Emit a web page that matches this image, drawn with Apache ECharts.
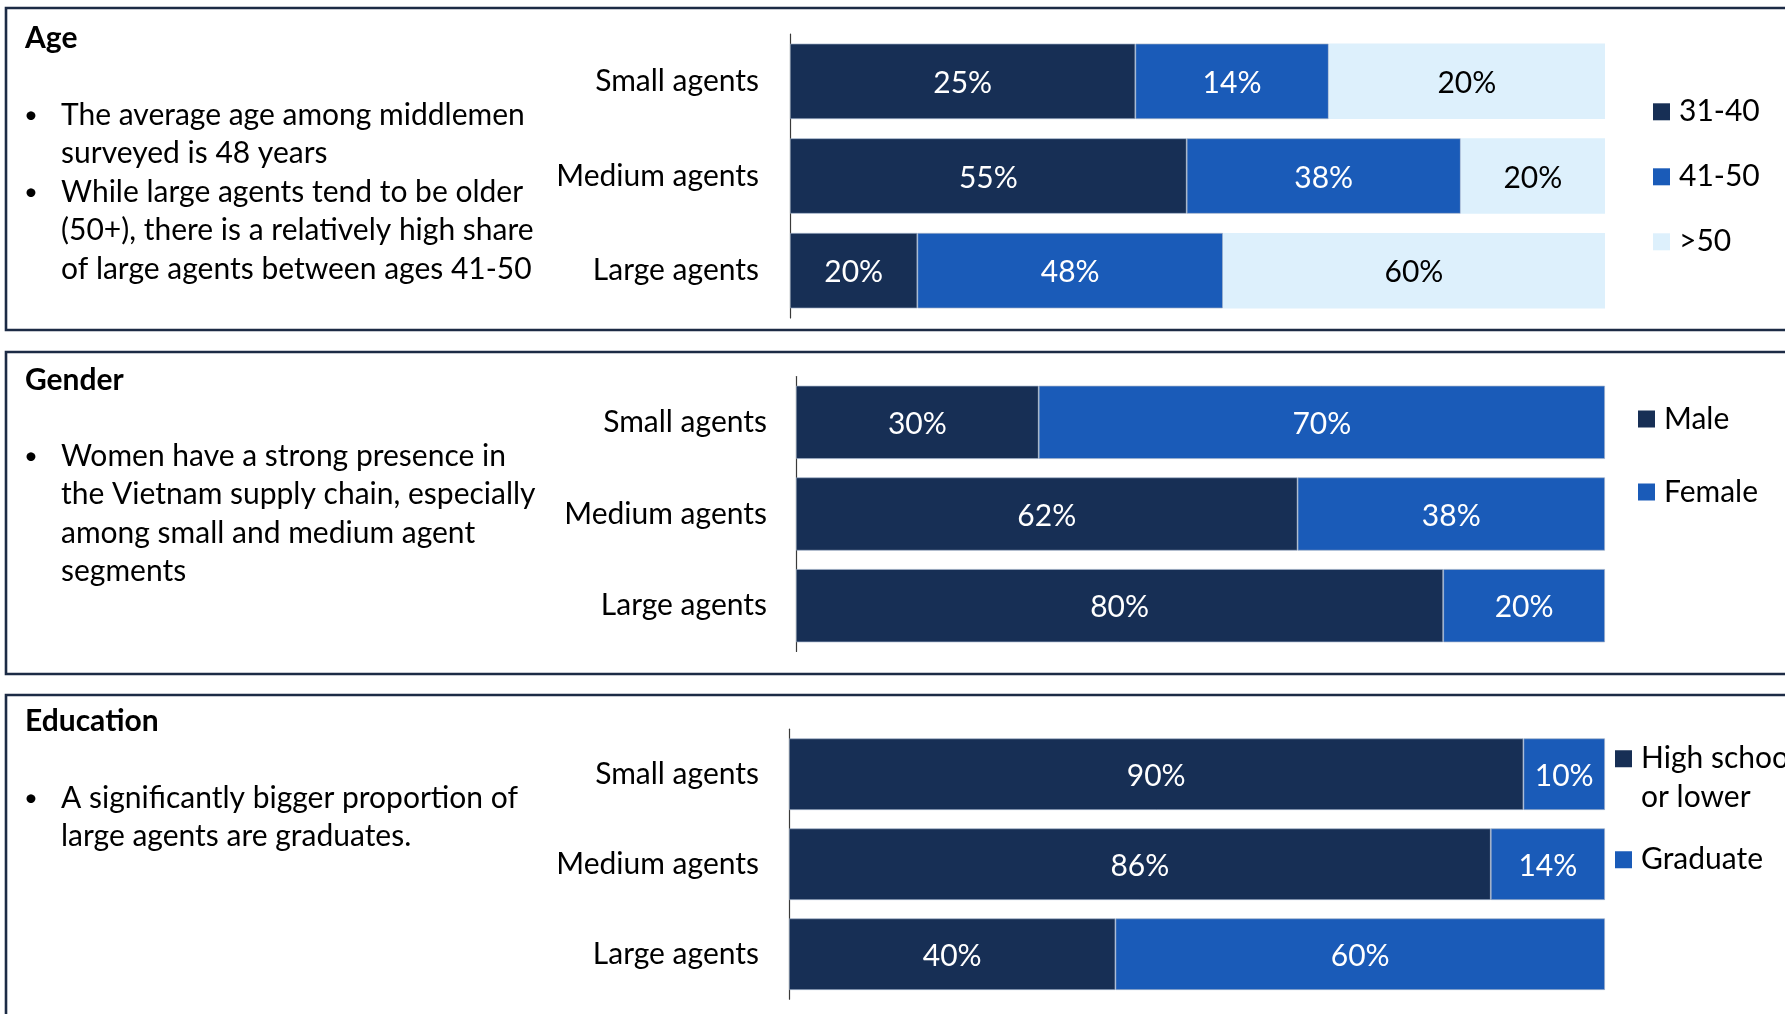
<!DOCTYPE html>
<html><head><meta charset="utf-8">
<script src="https://cdn.jsdelivr.net/npm/echarts@6/dist/echarts.min.js"></script>
<style>html,body{margin:0;padding:0;background:#fff;overflow:hidden}#c{width:1785px;height:1014px}</style>
</head><body><div id="c"></div>
<script>
// ---- data ----
const categories = ['Small agents', 'Medium agents', 'Large agents'];
const ageNames = ['31-40', '41-50', '>50'];
const age31to40 = [25, 55, 20];
const age41to50 = [14, 38, 48];
const ageOver50 = [20, 20, 60];
const genderNames = ['Male', 'Female'];
const genderMale = [30, 62, 80];
const genderFemale = [70, 38, 20];
const eduNames = ['High school or lower', 'Graduate'];
const eduHighSchool = [90, 86, 40];
const eduGraduate = [10, 14, 60];

// ---- style ----
const FONT = 'Lato';
const FS = 30;
const DARK = '#172f55', MID = '#1a5bb8', LIGHT = '#ddf0fc';
const BOX = '#1c2b45';

function normalized(groups) {
  // each bar is drawn as 100% of its row; share = value / row total
  return groups.map(arr => arr.map((v, i) => {
    const tot = groups.reduce((s, g) => s + g[i], 0);
    return { value: v / tot * 100, raw: v };
  }));
}

const panels = [
  { groups: [age31to40, age41to50, ageOver50], names: ageNames, colors: [DARK, MID, LIGHT], labelColors: ['#fff', '#fff', '#000'],
    grid: { left: 790, top: 34, height: 284 }, barWidth: 75.5, labelMargin: 31 },
  { groups: [genderMale, genderFemale], names: genderNames, colors: [DARK, MID], labelColors: ['#fff', '#fff'],
    grid: { left: 796, top: 376.5, height: 275 }, barWidth: 73.3, labelMargin: 29 },
  { groups: [eduHighSchool, eduGraduate], names: eduNames, colors: [DARK, MID], labelColors: ['#fff', '#fff'],
    grid: { left: 789, top: 729.2, height: 270 }, barWidth: 71.7, labelMargin: 30 }
];

const grids = [], xAxes = [], yAxes = [], series = [];
panels.forEach((p, pi) => {
  grids.push({ left: p.grid.left, right: 180, top: p.grid.top, height: p.grid.height, outerBoundsMode: 'none' });
  xAxes.push({ type: 'value', gridIndex: pi, min: 0, max: 100, show: false });
  yAxes.push({
    type: 'category', gridIndex: pi, data: categories, inverse: true,
    axisLine: { show: true, lineStyle: { color: '#3a3a3a', width: 1.2 } },
    axisTick: { show: false }, splitLine: { show: false },
    axisLabel: { margin: p.labelMargin, fontSize: FS, fontFamily: FONT, color: '#000' }
  });
  const norm = normalized(p.groups);
  norm.forEach((d, si) => {
    const light = p.colors[si] === LIGHT;
    series.push({
      type: 'bar', name: p.names[si], xAxisIndex: pi, yAxisIndex: pi, stack: 'p' + pi,
      barWidth: p.barWidth, data: d,
      itemStyle: { color: p.colors[si], borderColor: light ? LIGHT : 'rgba(160,176,200,0.85)', borderWidth: light ? 0 : 0.8 },
      label: { show: true, position: 'inside', offset: [0, 2], fontSize: FS, fontFamily: FONT, color: p.labelColors[si],
               textBorderWidth: 0, formatter: prm => prm.data.raw + '%' },
      emphasis: { disabled: true }, animation: false
    });
  });
});

const legendText = { fontSize: FS, fontFamily: FONT, color: '#000', lineHeight: 30, padding: [0, 0, 0, 4] };
const legends = [
  { data: ageNames, left: 1653, top: 96.8, itemGap: 35 },
  { data: genderNames, left: 1638, top: 404, itemGap: 43 },
  { data: eduNames, left: 1615, top: 701, itemGap: 24,
    formatter: n => n === 'High school or lower' ? '\nHigh school\nor lower' : n,
    textStyle: Object.assign({}, legendText, { lineHeight: 38.5 }) }
].map(l => Object.assign({ orient: 'vertical', icon: 'rect', itemWidth: 17, itemHeight: 17,
  selectedMode: false, textStyle: legendText, padding: 0, itemStyle: { borderWidth: 0 } }, l));

// ---- text blocks ----
function txt(s, x, y, opt) {
  return Object.assign({ type: 'text', x: x, y: y, silent: true,
    style: Object.assign({ text: s, fontSize: FS, fontFamily: FONT, fill: '#000',
      align: 'left', textAlign: 'left', verticalAlign: 'middle', textVerticalAlign: 'middle' }, opt || {}) });
}
const blocks = [
  { title: 'Age', ty: 38, lines: [
    ['The average age among middlemen', 115, true], ['surveyed is 48 years', 153.5, false],
    ['While large agents tend to be older', 192, true], ['(50+), there is a relatively high share', 230.5, false],
    ['of large agents between ages 41-50', 269, false]] },
  { title: 'Gender', ty: 380.5, lines: [
    ['Women have a strong presence in', 456, true], ['the Vietnam supply chain, especially', 494.5, false],
    ['among small and medium agent', 533, false], ['segments', 571.5, false]] },
  { title: 'Education', ty: 721.5, lines: [
    ['A significantly bigger proportion of', 798, true], ['large agents are graduates.', 836.5, false]] }
];
const graphics = [];
[[8, 322], [352, 322], [695, 400]].forEach(b => {
  graphics.push({ type: 'rect', silent: true, shape: { x: 6, y: b[0], width: 1820, height: b[1] },
    style: { fill: 'none', stroke: BOX, lineWidth: 2.6 } });
});
blocks.forEach(b => {
  graphics.push(txt(b.title, 25, b.ty, { fontWeight: 'bold' }));
  b.lines.forEach(l => {
    if (l[2]) graphics.push(txt('•', 24, l[1], { fontSize: 24 }));
    graphics.push(txt(l[0], 61, l[1]));
  });
});

const chart = echarts.init(document.getElementById('c'), null, { renderer: 'canvas' });
chart.setOption({
  animation: false,
  backgroundColor: '#fff',
  grid: grids, xAxis: xAxes, yAxis: yAxes, series: series,
  legend: legends,
  tooltip: { show: false },
  graphic: { elements: graphics }
});
</script></body></html>
